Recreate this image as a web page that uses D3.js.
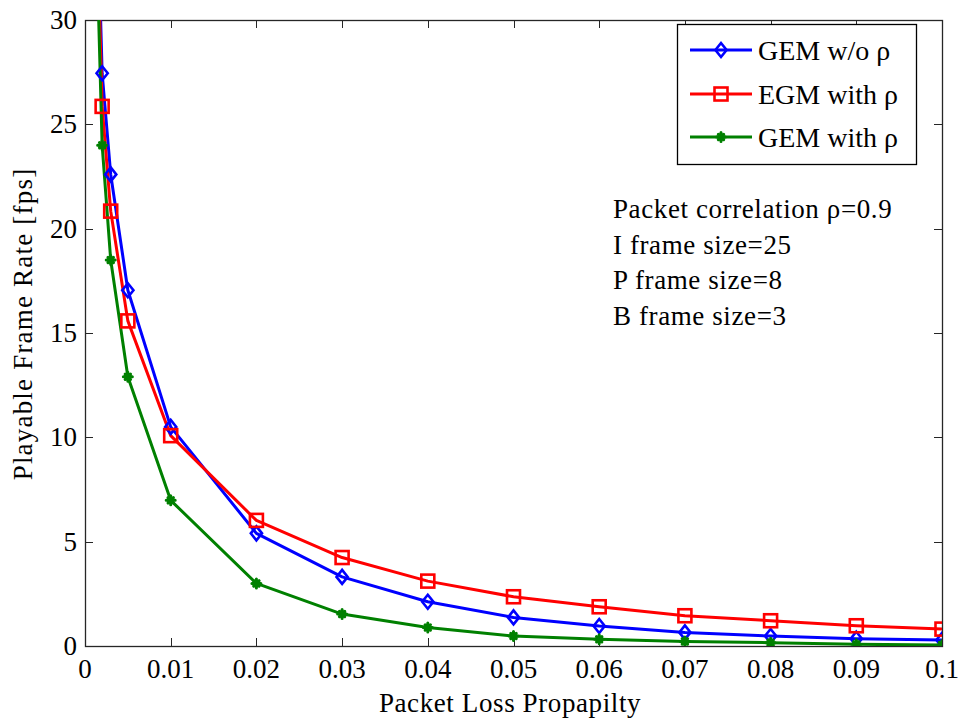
<!DOCTYPE html>
<html>
<head>
<meta charset="utf-8">
<script src="https://cdn.jsdelivr.net/npm/d3@7/dist/d3.min.js"></script>
<style>
  html, body { margin: 0; padding: 0; background: #fff; }
  svg { display: block; }
</style>
</head>
<body>
<svg id="chart" width="959" height="723" font-family="'Liberation Serif', 'Times New Roman', Times, 'DejaVu Serif', serif"></svg>
<script>
// ---- data ----
const lossProb = [0.001, 0.002, 0.003, 0.005, 0.01, 0.02, 0.03, 0.04, 0.05, 0.06, 0.07, 0.08, 0.09, 0.1];
const gemWithoutRho = [42, 27.45, 22.6, 17.05, 10.5, 5.4, 3.31, 2.12, 1.37, 0.96, 0.65, 0.48, 0.35, 0.29];
const egmWithRho    = [41, 25.86, 20.84, 15.58, 10.08, 6.02, 4.24, 3.11, 2.36, 1.88, 1.45, 1.21, 0.97, 0.81];
const gemWithRho    = [39, 24.0, 18.5, 12.9, 6.98, 3.0, 1.53, 0.89, 0.48, 0.32, 0.22, 0.16, 0.08, 0.05];
const seriesNames = ["GEM w/o \u03c1", "EGM with \u03c1", "GEM with \u03c1"];
const seriesColors = ["#0000ff", "#ff0000", "#008000"];
const seriesMarkers = ["diamond", "square", "asterisk"];
const xTicks = [0, 0.01, 0.02, 0.03, 0.04, 0.05, 0.06, 0.07, 0.08, 0.09, 0.1];
const xTickLabels = ["0", "0.01", "0.02", "0.03", "0.04", "0.05", "0.06", "0.07", "0.08", "0.09", "0.1"];
const yTicks = [0, 5, 10, 15, 20, 25, 30];
const annotationLines = ["Packet correlation \u03c1=0.9", "I frame size=25", "P frame size=8", "B frame size=3"];
const xLabel = "Packet Loss Propapilty";
const yLabel = "Playable Frame Rate [fps]";

const allSeries = [gemWithoutRho, egmWithRho, gemWithRho];

// ---- layout ----
const svg = d3.select("#chart");
const L = 85, R = 942, T = 20, B = 646;
const x = d3.scaleLinear().domain([0, 0.1]).range([L, R]);
const y = d3.scaleLinear().domain([0, 30]).range([B, T]);
const axisColor = "#262626";
const tickLen = 8;

svg.append("defs").append("clipPath").attr("id", "plotclip")
  .append("rect").attr("x", L).attr("y", T).attr("width", R - L).attr("height", B - T);

// ticks (inward, on all 4 sides)
const gTicks = svg.append("g").attr("stroke", axisColor).attr("stroke-width", 1);
xTicks.forEach(t => {
  const px = Math.round(x(t)) + 0.5;
  gTicks.append("line").attr("x1", px).attr("x2", px).attr("y1", B).attr("y2", B - tickLen);
  gTicks.append("line").attr("x1", px).attr("x2", px).attr("y1", T).attr("y2", T + tickLen);
});
yTicks.forEach(t => {
  const py = Math.round(y(t)) + 0.5;
  gTicks.append("line").attr("x1", L).attr("x2", L + tickLen).attr("y1", py).attr("y2", py);
  gTicks.append("line").attr("x1", R).attr("x2", R - tickLen).attr("y1", py).attr("y2", py);
});

// box
svg.append("rect").attr("x", L + 0.5).attr("y", T + 0.5).attr("width", R - L).attr("height", B - T)
  .attr("fill", "none").attr("stroke", axisColor).attr("stroke-width", 1.3);

// tick labels
xTicks.forEach((t, i) => {
  svg.append("text").attr("x", x(t)).attr("y", 678).attr("text-anchor", "middle")
    .attr("font-size", 27).text(xTickLabels[i]);
});
yTicks.forEach(t => {
  svg.append("text").attr("x", 77).attr("y", y(t) + 9).attr("text-anchor", "end")
    .attr("font-size", 27).text(String(t));
});

// axis labels
svg.append("text").attr("x", 510).attr("y", 712).attr("text-anchor", "middle")
  .attr("font-size", 27).attr("letter-spacing", 0.6).text(xLabel);
svg.append("text").attr("transform", "translate(32,324) rotate(-90)").attr("text-anchor", "middle")
  .attr("font-size", 27).attr("letter-spacing", 1.2).text(yLabel);

// markers
function drawMarker(g, kind, cx, cy, color) {
  if (kind === "diamond") {
    const r = 7;
    g.append("path").attr("d", `M${cx},${cy - r}L${cx + r * 0.8},${cy}L${cx},${cy + r}L${cx - r * 0.8},${cy}Z`)
      .attr("fill", "none").attr("stroke", color).attr("stroke-width", 2.6);
  } else if (kind === "square") {
    const h = 6.5;
    g.append("rect").attr("x", cx - h).attr("y", cy - h).attr("width", 2 * h).attr("height", 2 * h)
      .attr("fill", "none").attr("stroke", color).attr("stroke-width", 2.6);
  } else {
    const r = 4.5, d = r * 0.6;
    g.append("path").attr("d",
      `M${cx - r},${cy}L${cx + r},${cy}M${cx},${cy - r}L${cx},${cy + r}` +
      `M${cx - d},${cy - d}L${cx + d},${cy + d}M${cx - d},${cy + d}L${cx + d},${cy - d}`)
      .attr("stroke", color).attr("stroke-width", 3).attr("stroke-linecap", "round");
    g.append("circle").attr("cx", cx).attr("cy", cy).attr("r", 3.5).attr("fill", color);
  }
}

// series
const line = d3.line().x((d, i) => x(lossProb[i])).y(d => y(d));
const plot = svg.append("g").attr("clip-path", "url(#plotclip)");
allSeries.forEach((vals, si) => {
  plot.append("path").datum(vals).attr("d", line)
    .attr("fill", "none").attr("stroke", seriesColors[si]).attr("stroke-width", 3)
    .attr("stroke-linejoin", "round");
});
allSeries.forEach((vals, si) => {
  const g = plot.append("g");
  vals.forEach((v, i) => {
    if (v <= 30) drawMarker(g, seriesMarkers[si], x(lossProb[i]), y(v), seriesColors[si]);
  });
});

// legend
const lg = svg.append("g");
lg.append("rect").attr("x", 677.5).attr("y", 24.5).attr("width", 239).attr("height", 140)
  .attr("fill", "#fff").attr("stroke", "#000").attr("stroke-width", 1.3);
const rowY = [50, 94, 137];
seriesNames.forEach((name, i) => {
  lg.append("line").attr("x1", 690).attr("x2", 752).attr("y1", rowY[i]).attr("y2", rowY[i])
    .attr("stroke", seriesColors[i]).attr("stroke-width", 3);
  drawMarker(lg, seriesMarkers[i], 721, rowY[i], seriesColors[i]);
  lg.append("text").attr("x", 758).attr("y", rowY[i] + 10).attr("font-size", 28).text(name);
});

// annotation
annotationLines.forEach((t, i) => {
  svg.append("text").attr("x", 613).attr("y", 218 + i * 35.7).attr("font-size", 27)
    .attr("letter-spacing", 0.6).text(t);
});
</script>
</body>
</html>
